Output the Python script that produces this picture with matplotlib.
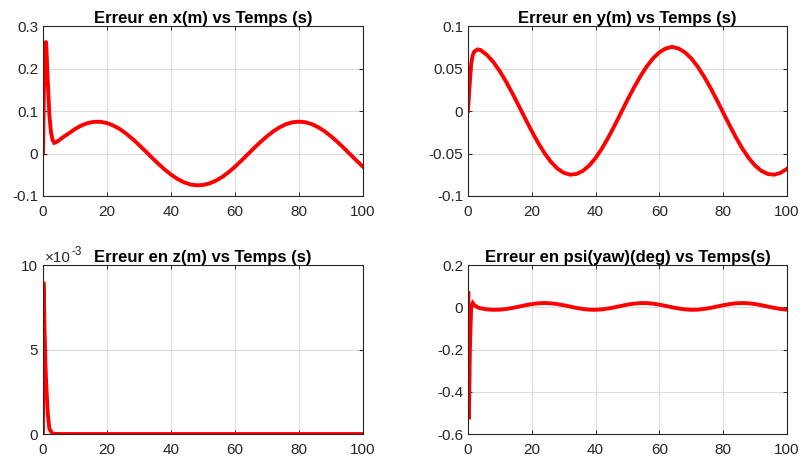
import numpy as np
import matplotlib
matplotlib.use("Agg")
import matplotlib.pyplot as plt

plt.rcParams['font.family'] = ['Liberation Sans', 'DejaVu Sans']
plt.rcParams['axes.unicode_minus'] = False

# temps (s)
t_x = [0, 0.3, 0.7, 1.0, 1.5, 2, 2.5, 3, 3.5, 4, 5, 6, 8, 10, 12, 14, 16, 18, 20,
       22, 24, 26, 28, 30, 32, 34, 36, 38, 40, 42, 44, 46, 48, 50, 52, 54, 56, 58,
       60, 62, 64, 66, 68, 70, 72, 74, 76, 78, 80, 82, 84, 86, 88, 90, 92, 94, 96,
       98, 100]
err_x = [0, 0.15, 0.265, 0.26, 0.17, 0.09, 0.05, 0.032, 0.025, 0.026, 0.031, 0.037,
         0.047, 0.0575, 0.066, 0.0717, 0.0746, 0.0746, 0.0717, 0.0658, 0.0575, 0.0467,
         0.0342, 0.0203, 0.0056, -0.0093, -0.0239, -0.0375, -0.0496, -0.0598, -0.0676,
         -0.0727, -0.0749, -0.0741, -0.0705, -0.0642, -0.0553, -0.0441, -0.0311,
         -0.0168, -0.0019, 0.0131, 0.0274, 0.0406, 0.0523, 0.0619, 0.0691, 0.0736,
         0.075, 0.0736, 0.0691, 0.0619, 0.0523, 0.0406, 0.0274, 0.0131, -0.0019,
         -0.0168, -0.0311]

t_y = [0, 0.5, 1, 1.5, 2, 3, 4, 6, 8, 10, 12, 14, 16, 18, 20, 22, 24, 26, 28, 30,
       32, 34, 36, 38, 40, 42, 44, 46, 48, 50, 52, 54, 56, 58, 60, 62, 64, 66, 68,
       70, 72, 74, 76, 78, 80, 82, 84, 86, 88, 90, 92, 94, 96, 98, 100]
err_y = [0, 0.03, 0.055, 0.066, 0.07, 0.0725, 0.0717, 0.0658, 0.0575, 0.0467, 0.0342,
         0.0203, 0.0056, -0.0093, -0.0239, -0.0375, -0.0496, -0.0598, -0.0676,
         -0.0727, -0.0749, -0.0741, -0.0705, -0.0642, -0.0553, -0.0441, -0.0311,
         -0.0168, -0.0019, 0.0131, 0.0274, 0.0406, 0.0523, 0.0619, 0.0691, 0.0736,
         0.0755, 0.0736, 0.0691, 0.0619, 0.0523, 0.0406, 0.0274, 0.0131, -0.0019,
         -0.0168, -0.0311, -0.0441, -0.0553, -0.0642, -0.0705, -0.0741, -0.0749,
         -0.0727, -0.068]

t_z = [0, 0.1, 0.2, 0.35, 0.5, 0.75, 1, 1.5, 2, 3, 5, 10, 20, 40, 60, 80, 100]
err_z = [0, 0.009, 0.0089, 0.0075, 0.006, 0.0042, 0.003, 0.0012, 0.0003, 0.00002,
         0, 0, 0, 0, 0, 0, 0]

t_psi = [0, 0.1, 0.3, 0.6, 1.0, 1.5, 2, 3, 4, 6, 8, 10, 12, 14, 16, 18, 20, 22, 24,
         26, 28, 30, 32, 34, 36, 38, 40, 42, 44, 46, 48, 50, 52, 54, 56, 58, 60, 62,
         64, 66, 68, 70, 72, 74, 76, 78, 80, 82, 84, 86, 88, 90, 92, 94, 96, 98, 100]
err_psi = [0, 0.075, -0.53, -0.2, 0.0, 0.02, 0.01, 0.0, -0.005, -0.01, -0.0119,
           -0.0113, -0.0081, -0.003, 0.0032, 0.0096, 0.015, 0.0187, 0.02, 0.0187,
           0.015, 0.0096, 0.0032, -0.003, -0.0081, -0.0113, -0.0119, -0.01, -0.0058,
           0.0, 0.0064, 0.0125, 0.0171, 0.0197, 0.0197, 0.0171, 0.0125, 0.0064, 0.0,
           -0.0058, -0.01, -0.0119, -0.0113, -0.0081, -0.003, 0.0032, 0.0096, 0.015,
           0.0187, 0.02, 0.0187, 0.015, 0.0096, 0.0032, -0.003, -0.0081, -0.0113]

titles = ["Erreur en x(m) vs Temps (s)", "Erreur en y(m) vs Temps (s)",
          "Erreur en z(m) vs Temps (s)", "Erreur en psi(yaw)(deg) vs Temps(s)"]
xticks = [0, 20, 40, 60, 80, 100]
yticks_x = [-0.1, 0, 0.1, 0.2, 0.3]
ylabels_x = ["-0.1", "0", "0.1", "0.2", "0.3"]
yticks_y = [-0.1, -0.05, 0, 0.05, 0.1]
ylabels_y = ["-0.1", "-0.05", "0", "0.05", "0.1"]
yticks_z = [0, 0.005, 0.01]
ylabels_z = ["0", "5", "10"]
yticks_psi = [-0.6, -0.4, -0.2, 0, 0.2]
ylabels_psi = ["-0.6", "-0.4", "-0.2", "0", "0.2"]

fig = plt.figure(figsize=(8.02, 4.63), dpi=100)
positions = [[0.0536, 0.5767, 0.399, 0.367],
             [0.5835, 0.5767, 0.3978, 0.367],
             [0.0536, 0.0626, 0.399, 0.365],
             [0.5835, 0.0626, 0.3978, 0.365]]

series = [(t_x, err_x, yticks_x, ylabels_x),
          (t_y, err_y, yticks_y, ylabels_y),
          (t_z, err_z, yticks_z, ylabels_z),
          (t_psi, err_psi, yticks_psi, ylabels_psi)]

dark = '#262626'
for pos, (t, e, yt, yl), title in zip(positions, series, titles):
    ax = fig.add_axes(pos)
    ax.plot(t, e, color='red', lw=2.8, solid_joinstyle='miter')
    ax.set_xlim(0, 100)
    ax.set_ylim(yt[0], yt[-1])
    ax.set_xticks(xticks)
    ax.set_yticks(yt)
    ax.set_yticklabels(yl)
    ax.grid(True, color='#dcdcdc', lw=0.8)
    ax.set_axisbelow(True)
    ax.tick_params(direction='in', top=True, right=True, length=3, width=0.7,
                   colors=dark, labelsize=11, labelcolor=dark)
    ax.tick_params(axis='x', pad=6.5)
    ax.tick_params(axis='y', pad=3.5)
    for sp in ax.spines.values():
        sp.set_color(dark)
        sp.set_linewidth(0.8)
    ax.set_title(title, fontsize=12, fontweight='bold', color='black', pad=2.5)

# facteur d'échelle du graphe en z
fig.text(45 / 802, 1 - 262 / 463, "\u00d710", fontsize=11,
         color=dark, ha='left', va='baseline')
fig.text(72 / 802, 1 - 255 / 463, "-3", fontsize=8.5,
         color=dark, ha='left', va='baseline')

fig.savefig("out.png", dpi=100)
